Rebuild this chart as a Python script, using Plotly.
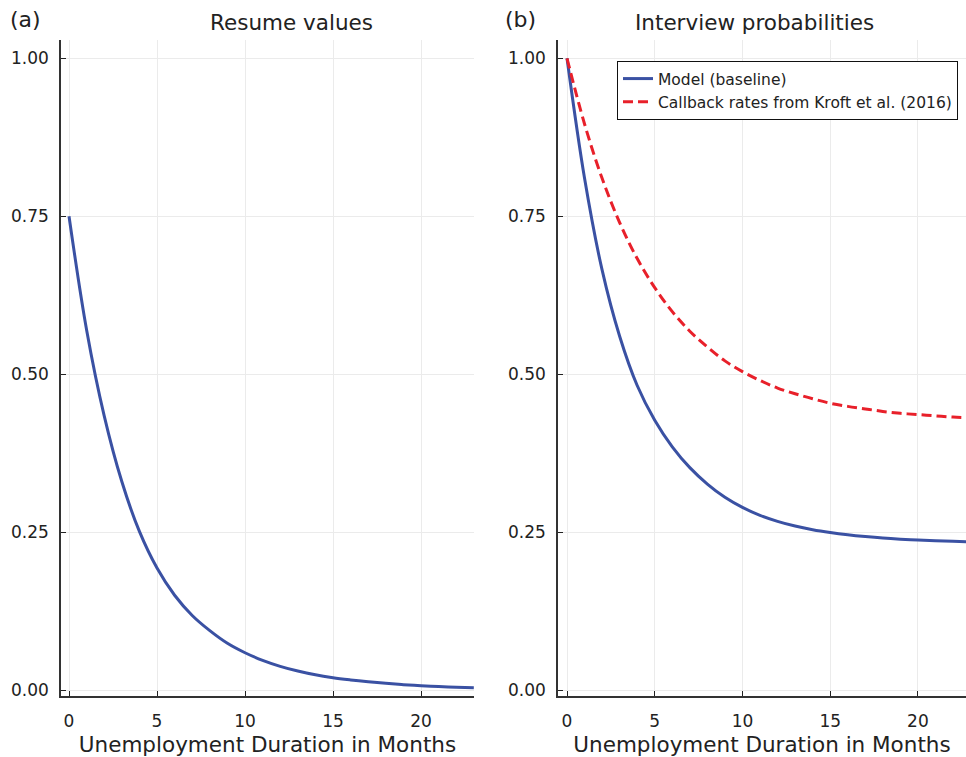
import plotly.graph_objects as go

# ---- data ----
months = list(range(0, 24))

resume_values = [0.750, 0.570, 0.434, 0.330, 0.251, 0.193, 0.150, 0.118, 0.094, 0.074,
                 0.059, 0.047, 0.0375, 0.030, 0.024, 0.0195, 0.016, 0.013, 0.0105, 0.0085,
                 0.0068, 0.0055, 0.0044, 0.0035]

model_baseline = [1.000, 0.810, 0.665, 0.560, 0.482, 0.427, 0.385, 0.352, 0.326, 0.305,
                  0.289, 0.2765, 0.267, 0.2595, 0.2538, 0.2494, 0.2458, 0.2429, 0.2405, 0.2387,
                  0.2373, 0.2362, 0.2353, 0.2346]

callback_kroft = [1.000, 0.896, 0.810, 0.740, 0.683, 0.637, 0.599, 0.568, 0.543, 0.521,
                  0.504, 0.490, 0.478, 0.469, 0.461, 0.454, 0.449, 0.445, 0.441, 0.438,
                  0.436, 0.434, 0.432, 0.431]

x_ticks = [0, 5, 10, 15, 20]
y_ticks = [0.0, 0.25, 0.5, 0.75, 1.0]
y_tick_labels = ["0.00", "0.25", "0.50", "0.75", "1.00"]

BLUE = "#3a51a3"
RED = "#e8202a"
FONT = "DejaVu Sans"
TXT = "#222222"

fig = go.Figure()

fig.add_trace(go.Scatter(x=months, y=resume_values, mode="lines", line_shape="spline",
                         line=dict(color=BLUE, width=3), showlegend=False,
                         xaxis="x", yaxis="y"))
fig.add_trace(go.Scatter(x=months, y=model_baseline, mode="lines", line_shape="spline",
                         line=dict(color=BLUE, width=3), name="Model (baseline)",
                         xaxis="x2", yaxis="y2"))
fig.add_trace(go.Scatter(x=months, y=callback_kroft, mode="lines", line_shape="spline",
                         line=dict(color=RED, width=3, dash="10px,5px"),
                         name="Callback rates from Kroft et al. (2016)",
                         xaxis="x2", yaxis="y2"))

W, H = 966, 757
ML, MR, MT, MB = 61, 0, 40, 61
pw = W - ML - MR
ph = H - MT - MB

axis_common = dict(
    showline=True, linecolor="#333333", linewidth=1.5, mirror=False,
    showgrid=True, gridcolor="#ebebeb", gridwidth=1,
    zeroline=False, ticks="inside", ticklen=5, tickwidth=1.2, tickcolor="#222222",
    tickfont=dict(family=FONT, size=17, color=TXT),
)

xtitle = dict(text="Unemployment Duration in Months",
              font=dict(family=FONT, size=21.5, color=TXT), standoff=7)

fig.update_layout(
    width=W, height=H,
    margin=dict(l=ML, r=MR, t=MT, b=MB, autoexpand=False),
    paper_bgcolor="white", plot_bgcolor="white",
    font=dict(family=FONT, color=TXT),
    xaxis=dict(domain=[0, (474 - ML) / pw], range=[-0.455, 23.01],
               tickvals=x_ticks, title=xtitle, anchor="y", ticklabelstandoff=9, **axis_common),
    yaxis=dict(domain=[0, 1], range=[-0.0095, 1.029], tickvals=y_ticks,
               ticktext=y_tick_labels, anchor="x", ticklabelstandoff=7, **axis_common),
    xaxis2=dict(domain=[(558 - ML) / pw, 1], range=[-0.513, 22.74],
                tickvals=x_ticks, title=xtitle, anchor="y2", ticklabelstandoff=9, **axis_common),
    yaxis2=dict(domain=[0, 1], range=[-0.0095, 1.029], tickvals=y_ticks,
                ticktext=y_tick_labels, anchor="x2", ticklabelstandoff=7, **axis_common),
    legend=dict(x=(617 - ML) / pw, y=(H - MB - 61) / ph, xanchor="left", yanchor="top",
                bordercolor="#111111", borderwidth=1, bgcolor="white",
                font=dict(family=FONT, size=15.5, color=TXT),
                itemwidth=30, tracegroupgap=0, traceorder="normal"),
)

def fig_annot(text, fx, fy, size, xanchor):
    # fx, fy: pixel position in the full figure (from top-left)
    return dict(text=text, x=(fx - ML) / pw, y=(H - MB - fy) / ph,
                xref="paper", yref="paper", xanchor=xanchor, yanchor="middle",
                showarrow=False, font=dict(family=FONT, size=size, color=TXT))

fig.update_layout(annotations=[
    fig_annot("(a)", 8, 20, 22, "left"),
    fig_annot("(b)", 503, 20, 22, "left"),
    fig_annot("Resume values", 291.5, 22, 21.5, "center"),
    fig_annot("Interview probabilities", 754, 22, 21.5, "center"),
])

fig.write_html("out.html", config={"displayModeBar": False},
               post_script="document.body.style.margin='0';document.body.style.padding='0';")
